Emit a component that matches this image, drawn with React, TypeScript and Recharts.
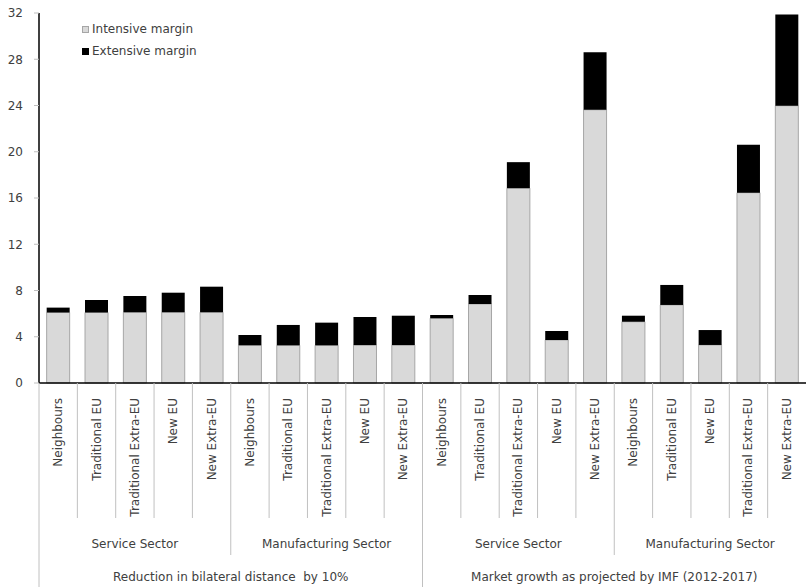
import React from 'react';
import { BarChart, Bar, XAxis, YAxis, Legend } from 'recharts';

const regions = [
  'Neighbours', 'Traditional EU', 'Traditional Extra-EU', 'New EU', 'New Extra-EU',
  'Neighbours', 'Traditional EU', 'Traditional Extra-EU', 'New EU', 'New Extra-EU',
  'Neighbours', 'Traditional EU', 'Traditional Extra-EU', 'New EU', 'New Extra-EU',
  'Neighbours', 'Traditional EU', 'New EU', 'Traditional Extra-EU', 'New Extra-EU',
];
const sectors = ['Service Sector', 'Manufacturing Sector', 'Service Sector', 'Manufacturing Sector'];
const scenarios = ['Reduction in bilateral distance  by 10%', 'Market growth as projected by IMF (2012-2017)'];

const intensive = [
  6.1, 6.1, 6.12, 6.12, 6.12,
  3.26, 3.26, 3.26, 3.28, 3.28,
  5.6, 6.83, 16.85, 3.72, 23.63,
  5.3, 6.75, 3.29, 16.46, 23.98,
];
const extensive = [
  0.42, 1.08, 1.4, 1.69, 2.21,
  0.89, 1.76, 1.96, 2.43, 2.54,
  0.28, 0.78, 2.25, 0.78, 4.97,
  0.52, 1.73, 1.29, 4.14, 7.88,
];
const yTicks = [0, 4, 8, 12, 16, 20, 24, 28, 32];

const data = regions.map((r, i) => ({
  name: r,
  sector: sectors[Math.floor(i / 5)],
  scenario: scenarios[Math.floor(i / 10)],
  intensive: intensive[i],
  extensive: extensive[i],
}));

const FONT = '"DejaVu Sans", sans-serif';
const TEXT = '#404040';
const SEP = '#c0c0c0';
const W = 806;
const H = 587;

function CategoryTick(props: any) {
  const { x, y, payload, index } = props;
  const half = payload && payload.offset ? payload.offset : 19.2;
  const i = index;
  const left = x - half;
  let bottom = y + 135;
  if (i % 5 === 0) bottom = y + 172;
  if (i % 10 === 0) bottom = H;
  const row = data[i];
  return (
    <g>
      <line x1={left} y1={y} x2={left} y2={bottom} stroke={SEP} strokeWidth={1} />
      <text
        x={x}
        y={y + 15}
        transform={`rotate(-90, ${x}, ${y + 15})`}
        textAnchor="end"
        dominantBaseline="central"
        fontSize={12}
        fontFamily={FONT}
        fill={TEXT}
      >
        {payload.value}
      </text>
      {i % 5 === 2 && (
        <text x={x} y={y + 165} textAnchor="middle" fontSize={12} fontFamily={FONT} fill={TEXT}>
          {row.sector}
        </text>
      )}
      {i % 10 === 5 && (
        <text
          x={left}
          y={y + 198}
          textAnchor="middle"
          fontSize={12}
          fontFamily={FONT}
          fill={TEXT}
          style={{ whiteSpace: 'pre' }}
        >
          {row.scenario}
        </text>
      )}
    </g>
  );
}

const legendOrder = ['intensive', 'extensive'];

function LegendBox(props: any) {
  const items = [...(props.payload || [])].sort(
    (a: any, b: any) => legendOrder.indexOf(a.dataKey) - legendOrder.indexOf(b.dataKey)
  );
  return (
    <div style={{ fontFamily: FONT, fontSize: 12, color: TEXT }}>
      {items.map((it: any, k: number) => (
        <div key={k} style={{ display: 'flex', alignItems: 'center', height: 22 }}>
          <span
            style={{
              display: 'inline-block',
              width: 7,
              height: 7,
              background: it.color,
              border: it.dataKey === 'intensive' ? '1px solid #a6a6a6' : '1px solid #000',
              boxSizing: 'border-box',
              marginRight: 3,
            }}
          />
          {it.value}
        </div>
      ))}
    </div>
  );
}

export default function App() {
  return (
    <div style={{ position: 'fixed', left: 0, top: 0, width: W, height: H, background: '#fff' }}>
      <BarChart
        width={W}
        height={H}
        data={data}
        margin={{ top: 13, right: 0, bottom: 0, left: 0 }}
        barCategoryGap="20%"
      >
        <XAxis
          dataKey="name"
          interval={0}
          height={204}
          tickSize={0}
          tickMargin={0}
          axisLine={{ stroke: '#000', strokeWidth: 1.5 }}
          tickLine={false}
          tick={<CategoryTick />}
        />
        <YAxis
          width={39}
          domain={[0, 32]}
          ticks={yTicks}
          interval={0}
          tickSize={5}
          tickMargin={11}
          axisLine={{ stroke: '#000', strokeWidth: 1.5 }}
          tickLine={{ stroke: '#bfbfbf' }}
          tick={{ fontSize: 12, fontFamily: FONT, fill: TEXT }}
        />
        <Legend
          layout="vertical"
          verticalAlign="middle"
          align="center"
          wrapperStyle={{ position: 'absolute', left: 82, top: 18, width: 160 }}
          content={<LegendBox />}
        />
        <Bar
          dataKey="intensive"
          name="Intensive margin"
          stackId="a"
          fill="#d9d9d9"
          stroke="#a6a6a6"
          strokeWidth={1}
          isAnimationActive={false}
        />
        <Bar
          dataKey="extensive"
          name="Extensive margin"
          stackId="a"
          fill="#000000"
          isAnimationActive={false}
        />
      </BarChart>
    </div>
  );
}
